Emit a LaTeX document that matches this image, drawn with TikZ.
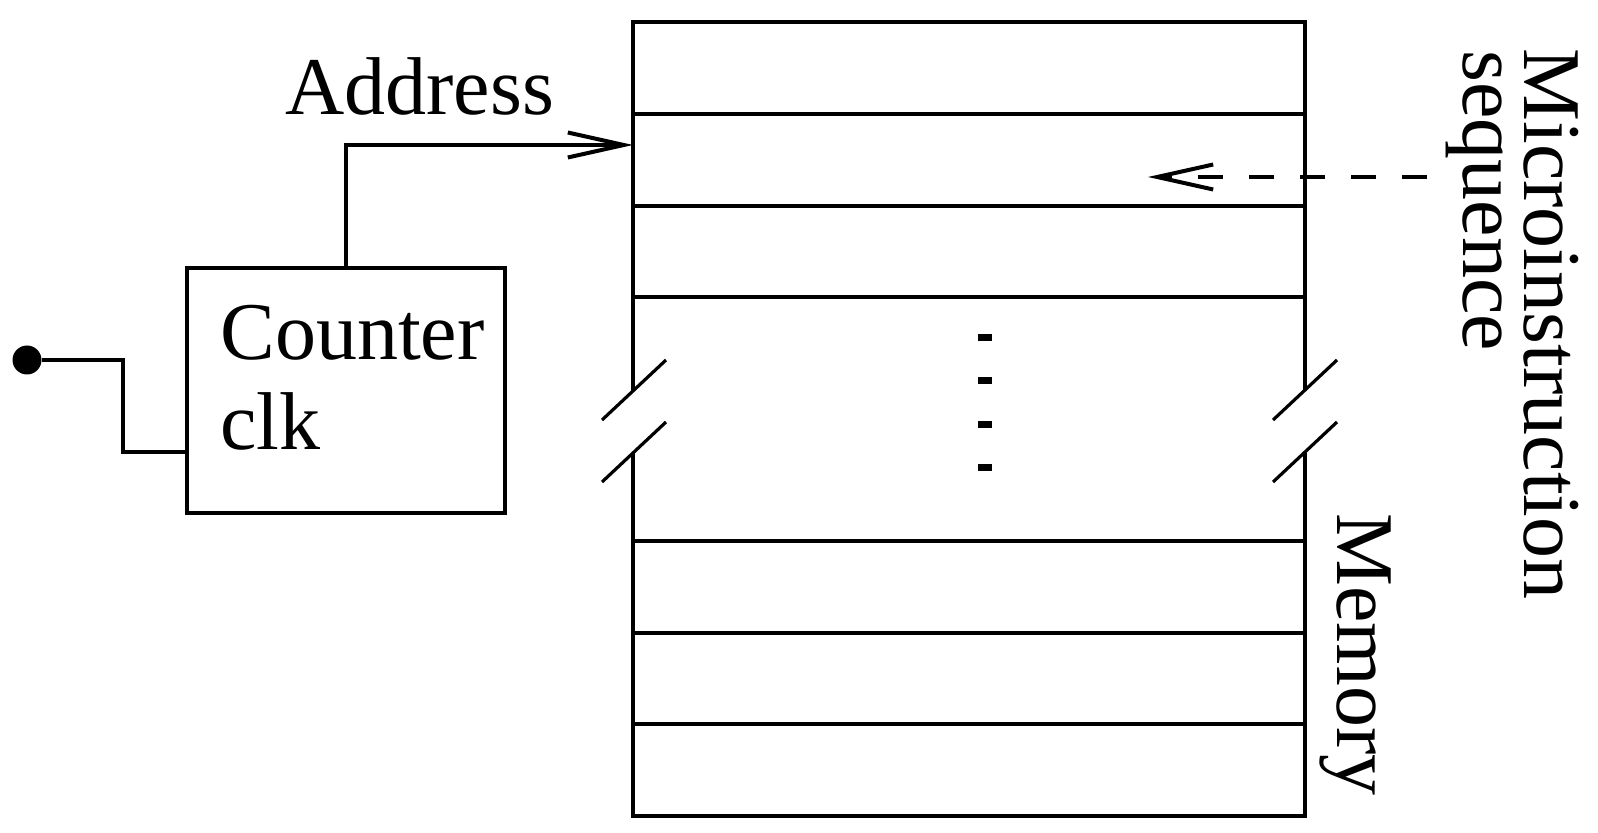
\documentclass[tikz,border=0pt]{standalone}
\usepackage{fontspec}
\setmainfont{Liberation Serif}
\usetikzlibrary{arrows.meta}

\begin{document}
\begin{tikzpicture}[x=0.5pt,y=-0.5pt]
\tikzset{wire/.style = {line width=2pt}}
\tikzset{arr/.style = {wire,-{Straight Barb[length=28pt,width=12.5pt,line width=2pt]}}}
\tikzset{lbl/.style = {inner sep=0pt,font=\fontsize{41}{49}\selectfont}}
\tikzset{breakmark/.style = {line width=1.6pt}}
\useasboundingbox (0,0) rectangle (1598,833);
% counter
\node[wire,draw,minimum width=159pt,minimum height=122.5pt,inner sep=0pt](ctr) at (346,390.5) {};
\node[lbl,anchor=base west](ctrtxt) at (220,360) {Counter};
\node[lbl,anchor=base west](clktxt) at (220,450) {clk};
\node[circle,fill,minimum size=14.5pt,inner sep=0pt](clk) at (27,360) {};
\coordinate (mem-in) at (633,145);
\coordinate (seq-in) at (1148,177);
\coordinate (seq-out) at (1427,177);
\draw[wire] (clk) -- (123,360) |- (ctr.west |- 0,452);
\draw[arr] (ctr.north) |- (mem-in);
\draw[arr,dash pattern=on 12.5pt off 13pt] (seq-out) -- (seq-in);
% memory
\draw[wire] (633,391) -- (633,22.4) -- (1305,22.4) -- (1305,391);
\draw[wire] (633,453) -- (633,816) -- (1305,816) -- (1305,453);
\foreach \y in {114,205.6,297.2,541.2,632.8,724.4}
  \draw[wire] (633,\y) -- (1305,\y);
\foreach \x in {602,1273} {
  \draw[breakmark] (\x,420) -- ++(64,-60);
  \draw[breakmark] (\x,482) -- ++(64,-60);
}
\foreach \y in {338,381,424,467}
  \fill (978,\y-3.5) rectangle ++(14,7);
% labels
\node[lbl,anchor=base west](addr) at (285,115) {Address};
\node[lbl,anchor=base west,rotate=-90](micro) at (1524,48) {Microinstruction};
\node[lbl,anchor=base west,rotate=-90](seq) at (1463,50) {sequence};
\node[lbl,anchor=base west,rotate=-90](mem) at (1337,513) {Memory};
\end{tikzpicture}
\end{document}
